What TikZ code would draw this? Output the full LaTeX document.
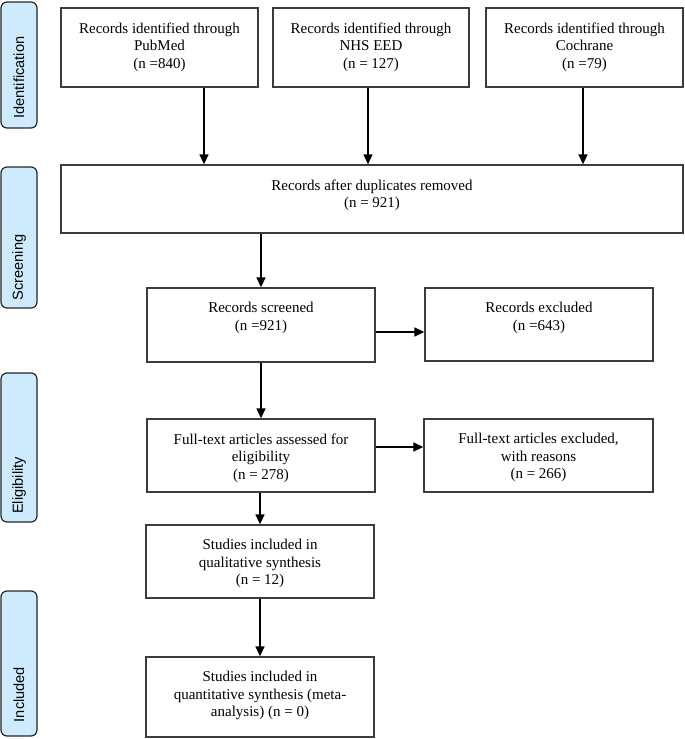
\documentclass[tikz,border=0pt]{standalone}
\usepackage{fontspec}
\setmainfont{Liberation Serif}
\newfontfamily\sidefont{Liberation Sans}
\usetikzlibrary{arrows.meta}
\definecolor{sideblue}{RGB}{206,234,253}
\definecolor{boxline}{RGB}{60,60,60}
\begin{document}
\begin{tikzpicture}[x=1pt,y=-1pt,
  box/.style={draw=boxline, line width=1.3pt, rectangle, inner sep=0pt},
  side/.style={draw=black!85, fill=sideblue, line width=1.2pt, rounded corners=6pt, rectangle, inner sep=0pt, minimum width=36pt},
  txt/.style={anchor=north, inner sep=0pt, align=center, font=\fontsize{15}{17.5}\selectfont},
  sidetxt/.style={rotate=90, inner sep=0pt, font=\sidefont\fontsize{14.6}{17}\selectfont},
  arr/.style={line width=1.5pt, -{Triangle[length=10pt,width=9pt]}}]
\useasboundingbox (0,0) rectangle (685,739);

% side phase boxes
\node[side, minimum height=126pt] (s1) at (19,65) {};
\node[side, minimum height=141pt] (s2) at (19,237.5) {};
\node[side, minimum height=149pt] (s3) at (19,447.5) {};
\node[side, minimum height=145pt] (s4) at (19,663.5) {};
\node[sidetxt] (s1t) at (19,77.5) {Identification};
\node[sidetxt] (s2t) at (19,267.5) {Screening};
\node[sidetxt] (s3t) at (19,485.5) {Eligibility};
\node[sidetxt] (s4t) at (19,694.5) {Included};

% boxes
\node[box, minimum width=197pt, minimum height=79pt] (pub) at (159.5,47.5) {};
\node[box, minimum width=196pt, minimum height=79pt] (nhs) at (371,47.5) {};
\node[box, minimum width=197pt, minimum height=79pt] (coch) at (584.5,47.5) {};
\node[box, minimum width=622pt, minimum height=68pt] (dup) at (372,199) {};
\node[box, minimum width=228pt, minimum height=74pt] (scr) at (261,325) {};
\node[box, minimum width=228pt, minimum height=73pt] (exc) at (539,324.5) {};
\node[box, minimum width=228pt, minimum height=73pt] (ft) at (261,455.5) {};
\node[box, minimum width=229pt, minimum height=73pt] (exc2) at (538.5,455.5) {};
\node[box, minimum width=228pt, minimum height=73pt] (qual) at (260,561.5) {};
\node[box, minimum width=228pt, minimum height=80pt] (quant) at (260,697) {};

% texts
\node[txt] (pubt) at ([yshift=-15pt]pub.north) {Records identified through\\PubMed\\(n =840)};
\node[txt] (nhst) at ([yshift=-15pt]nhs.north) {Records identified through\\NHS EED\\(n = 127)};
\node[txt] (cocht) at ([yshift=-15pt]coch.north) {Records identified through\\Cochrane\\(n =79)};
\node[txt] (dupt) at ([yshift=-15pt]dup.north) {Records after duplicates removed\\(n = 921)};
\node[txt] (scrt) at ([yshift=-15pt]scr.north) {Records screened\\(n =921)};
\node[txt] (exct) at ([yshift=-15pt]exc.north) {Records excluded\\(n =643)};
\node[txt] (ftt) at ([yshift=-15pt]ft.north) {Full-text articles assessed for\\eligibility\\(n = 278)};
\node[txt] (exc2t) at ([yshift=-15pt]exc2.north) {Full-text articles excluded,\\with reasons\\(n = 266)};
\node[txt] (qualt) at ([yshift=-15pt]qual.north) {Studies included in\\qualitative synthesis\\(n = 12)};
\node[txt] (quantt) at ([yshift=-15pt]quant.north) {Studies included in\\quantitative synthesis (meta-\\analysis) (n = 0)};

% connector helper coordinates
\coordinate (xa) at (204,0);
\coordinate (xb) at (368,0);
\coordinate (xc) at (583,0);
\coordinate (ya) at (0,332);
\coordinate (yb) at (0,447);

% arrows
\draw[arr] (pub.south -| xa) -- (dup.north -| xa);
\draw[arr] (nhs.south -| xb) -- (dup.north -| xb);
\draw[arr] (coch.south -| xc) -- (dup.north -| xc);
\draw[arr] (dup.south -| scr.north) -- (scr.north);
\draw[arr] (scr.east |- ya) -- (exc.west |- ya);
\draw[arr] (scr.south) -- (ft.north -| scr.south);
\draw[arr] (ft.east |- yb) -- (exc2.west |- yb);
\draw[arr] (ft.south -| qual.north) -- (qual.north);
\draw[arr] (qual.south) -- (quant.north);
\end{tikzpicture}
\end{document}
